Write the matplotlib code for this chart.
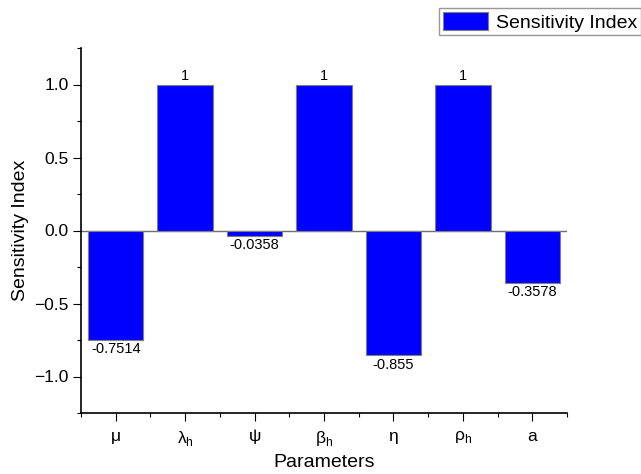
import matplotlib
matplotlib.use('Agg')
import matplotlib.pyplot as plt
from matplotlib.ticker import MultipleLocator, FixedLocator, FuncFormatter
import numpy as np

# Veriler
parameters = ['μ', 'λ$_\\mathregular{h}$', 'ψ', 'β$_\\mathregular{h}$', 'η',
              'ρ$_\\mathregular{h}$', 'a']
sensitivity = [-0.7514, 1, -0.0358, 1, -0.855, 1, -0.3578]
value_labels = ['-0.7514', '1', '-0.0358', '1', '-0.855', '1', '-0.3578']

plt.rcParams['font.family'] = ['Liberation Sans', 'DejaVu Sans']
plt.rcParams['mathtext.fontset'] = 'custom'
plt.rcParams['mathtext.rm'] = 'Liberation Sans'

fig = plt.figure(figsize=(6.41, 4.74), dpi=100)
ax = fig.add_axes([81 / 641, 1 - 413 / 474, (567 - 81) / 641, (413 - 48) / 474])

x = np.arange(1, len(parameters) + 1)
bars = ax.bar(x, sensitivity, 0.8, color='#0000FF', edgecolor='#7f7f7f',
              linewidth=0.8, label='Sensitivity Index', zorder=2)
# sıfır çizgisi
ax.axhline(0, color='#6f6f6f', linewidth=1.0, zorder=1)

# Değer etiketleri
for xi, v, lab in zip(x, sensitivity, value_labels):
    if v >= 0:
        ax.text(xi, v + 0.01, lab, ha='center', va='bottom', fontsize=10.5)
    else:
        ax.text(xi, v - 0.015, lab, ha='center', va='top', fontsize=10.5)

ax.set_xlim(0.5, 7.5)
ax.set_ylim(-1.25, 1.25)
ax.set_xticks(x)
ax.set_xticklabels(parameters)
ax.xaxis.set_minor_locator(FixedLocator(np.arange(0.5, 8, 1)))
ax.yaxis.set_major_locator(MultipleLocator(0.5))
ax.yaxis.set_minor_locator(MultipleLocator(0.25))
ax.yaxis.set_major_formatter(FuncFormatter(lambda v, p: f'{v:.1f}'.replace('-', '\u2212')))

ax.tick_params(axis='both', which='major', length=5.5, width=0.8,
               labelsize=12.5, direction='out')
ax.tick_params(axis='both', which='minor', length=3, width=0.8, direction='out')
ax.tick_params(axis='x', which='major', pad=6)

for s in ['top', 'right']:
    ax.spines[s].set_visible(False)
for s in ['left', 'bottom']:
    ax.spines[s].set_linewidth(1.2)

ax.set_xlabel('Parameters', fontsize=14)
ax.set_ylabel('Sensitivity Index', fontsize=14)

leg = fig.legend(handles=[bars], labels=['Sensitivity Index'], loc='upper right',
                 bbox_to_anchor=(1.0, 1 - 8 / 474), fontsize=14, frameon=True,
                 fancybox=False, edgecolor='#7f7f7f', borderpad=0.2,
                 handlelength=2.3, handleheight=1.05, handletextpad=0.4,
                 borderaxespad=0)
leg.get_frame().set_linewidth(1.0)

fig.savefig('out.png', dpi=100)
